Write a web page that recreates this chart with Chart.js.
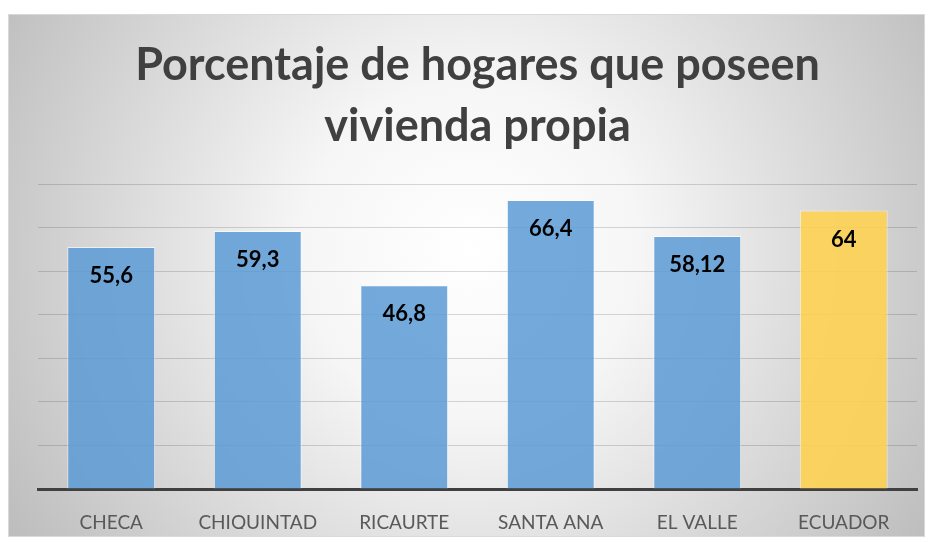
<!DOCTYPE html>
<html>
<head>
<meta charset="utf-8">
<script src="https://cdn.jsdelivr.net/npm/chart.js@4/dist/chart.umd.min.js"></script>
<style>
  html, body { margin: 0; padding: 0; background: #fff; }
  #wrap { width: 934px; height: 543px; }
</style>
</head>
<body>
<div id="wrap"><canvas id="bars" width="934" height="543"></canvas></div>
<script>
// datos
const labels = ['CHECA', 'CHIQUINTAD', 'RICAURTE', 'SANTA ANA', 'EL VALLE', 'ECUADOR'];
const values = [55.6, 59.3, 46.8, 66.4, 58.12, 64];
const barColors = [
    'rgba(91, 155, 213, 0.85)',
    'rgba(91, 155, 213, 0.85)',
    'rgba(91, 155, 213, 0.85)',
    'rgba(91, 155, 213, 0.85)',
    'rgba(91, 155, 213, 0.85)',
    'rgba(255, 210, 80, 0.88)'
];
const titleLines = ['Porcentaje de hogares que poseen', 'vivienda propia'];

// fondo con degradado radial y marco
const backgroundPlugin = {
    id: 'fondo',
    beforeDraw(chart) {
        const ctx = chart.ctx;
        const x0 = 8, y0 = 14, x1 = 925, y1 = 537;
        ctx.save();
        const g = ctx.createRadialGradient(470, 250, 0, 470, 250, 560);
        g.addColorStop(0, '#ffffff');
        g.addColorStop(0.3, '#f6f6f6');
        g.addColorStop(1, '#bababa');
        ctx.fillStyle = g;
        ctx.fillRect(x0, y0, x1 - x0, y1 - y0);
        ctx.strokeStyle = '#d9d9d9';
        ctx.lineWidth = 1;
        ctx.strokeRect(x0 + 0.5, y0 + 0.5, x1 - x0 - 1, y1 - y0 - 1);
        ctx.restore();
    }
};

// etiquetas de valor dentro de las barras, con coma decimal
const valueLabels = {
    id: 'valores',
    afterDatasetsDraw(chart) {
        const ctx = chart.ctx;
        const meta = chart.getDatasetMeta(0);
        ctx.save();
        ctx.font = 'bold 22px Lato';
        ctx.fillStyle = '#000';
        ctx.textAlign = 'center';
        ctx.textBaseline = 'middle';
        meta.data.forEach((bar, i) => {
            const txt = String(values[i]).replace('.', ',');
            ctx.fillText(txt, bar.x, bar.y + 29);
        });
        ctx.restore();
    }
};

const ctx = document.getElementById('bars').getContext('2d');
const chart = new Chart(ctx, {
    type: 'bar',
    data: {
        labels: labels,
        datasets: [{
            data: values,
            backgroundColor: barColors,
            borderColor: 'rgba(255, 255, 255, 0.6)',
            borderWidth: 1,
            barPercentage: 0.6,
            categoryPercentage: 1
        }]
    },
    options: {
        responsive: false,
        animation: false,
        layout: {
            padding: { left: 38, right: 17, top: 14, bottom: 14 }
        },
        plugins: {
            legend: { display: false },
            tooltip: { enabled: false },
            title: {
                display: true,
                text: titleLines,
                color: '#404040',
                font: { family: 'Lato', size: 45, weight: 'bold', lineHeight: 1.36 },
                padding: { top: 21, bottom: 27 }
            }
        },
        scales: {
            x: {
                grid: { display: false },
                border: { display: true, color: '#404040', width: 3 },
                ticks: {
                    color: '#595959',
                    font: { family: 'Lato', size: 19 },
                    padding: 14
                },
                afterFit(scale) { scale.height = 40; }
            },
            y: {
                min: 0,
                max: 70,
                ticks: { display: false, stepSize: 10 },
                border: { display: false },
                grid: { color: 'rgba(0, 0, 0, 0.15)', drawTicks: false }
            }
        }
    },
    plugins: [backgroundPlugin, valueLabels]
});
</script>
</body>
</html>
